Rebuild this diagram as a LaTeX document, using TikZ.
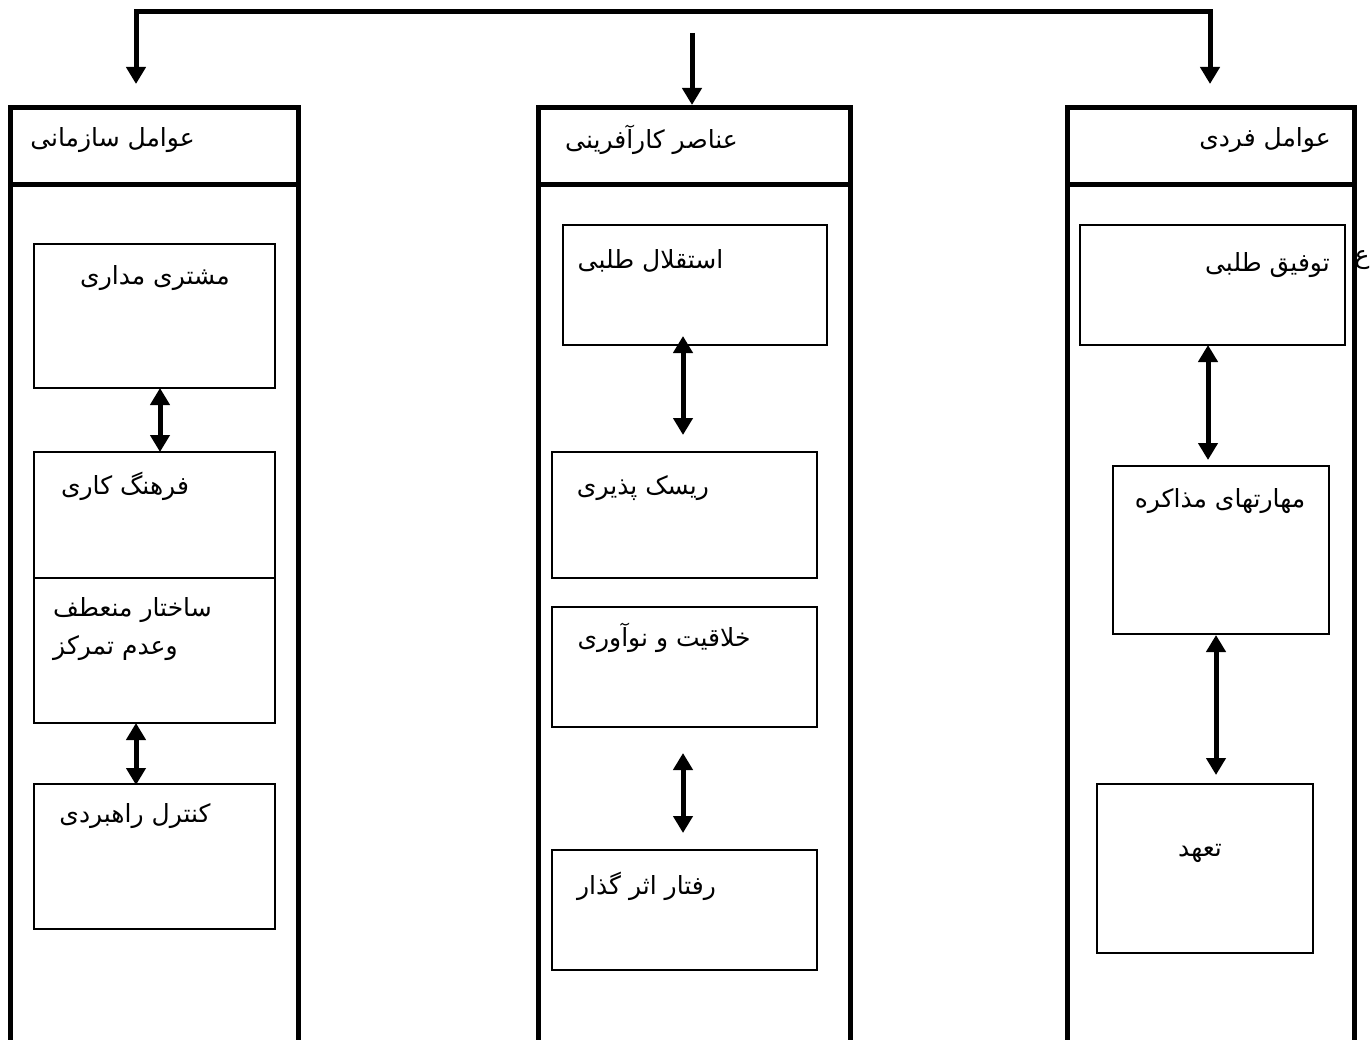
\documentclass[tikz,border=0pt]{standalone}
\usepackage{fontspec}
\newfontfamily\arabicfont[Script=Arabic]{DejaVu Sans}
\TeXXeTstate=1
\usetikzlibrary{arrows.meta,calc}
\tikzset{
  head/.style={draw, line width=5pt, inner sep=0pt, outer sep=0pt, minimum height=77pt, minimum width=#1},
  colside/.style={line width=5pt, line cap=butt},
  itembox/.style={draw, line width=1.6pt, inner sep=0pt, outer sep=0pt, minimum width=#1},
  lbl/.style={inner sep=0pt, yshift=-3pt, font=\arabicfont\fontsize{25}{38}\selectfont},
  dblarrow/.style={line width=5pt, {Triangle[width=19pt,length=17pt]}-{Triangle[width=19pt,length=17pt]}},
  busarrow/.style={line width=5pt, line join=miter, {Triangle[width=19pt,length=17pt]}-{Triangle[width=19pt,length=17pt]}},
  downarrow/.style={line width=5pt, -{Triangle[width=19pt,length=17pt]}}
}
\begin{document}
\begin{tikzpicture}[x=1pt,y=-1pt]
\useasboundingbox (0,0) rectangle (1372,1040);
\clip (0,0) rectangle (1372,1040);
\fill[white] (0,0) rectangle (1372,1040);

% column headers
\node[head=288pt] (h1) at (154,146.5) {};
\node[head=312pt] (h2) at (694,146.5) {};
\node[head=287pt] (h3) at (1210.5,146.5) {};
\foreach \h in {h1,h2,h3}{
  \draw[colside] (\h.south west) -- ++(0,900);
  \draw[colside] (\h.south east) -- ++(0,900);
}

% header texts
\node[lbl] (th1) at (112.5,137) {\beginR عوامل سازمانی\endR};
\node[lbl] (th2) at (651.5,137) {\beginR عناصر کارآفرینی\endR};
\node[lbl] (th3) at (1265,137) {\beginR عوامل فردی\endR};

% top connectors
\coordinate (tl) at (136,12);
\coordinate (tr) at (1210,12);
\coordinate (tm) at (692,33);
\draw[busarrow, shorten <=24pt, shorten >=24pt] (tl |- h1.north) -- (tl) -- (tr) -- (tr |- h3.north);
\draw[downarrow, shorten >=3pt] (tm) -- (tm |- h2.north);

% left column boxes
\node[itembox=241pt, minimum height=144pt] (b1) at (154.5,316) {};
\node[itembox=241pt, minimum height=126pt] (b2) at (154.5,515) {};
\node[itembox=241pt, minimum height=145pt] (b3) at (154.5,650.5) {};
\node[itembox=241pt, minimum height=145pt] (b4) at (154.5,856.5) {};
\node[lbl] (tb1) at (155,275) {\beginR مشتری مداری\endR};
\node[lbl] (tb2) at (125,483) {\beginR فرهنگ کاری\endR};
\node[lbl, align=left, anchor=west] (tb3) at (53,626) {\beginR ساختار منعطف\endR\\\beginR وعدم تمرکز\endR};
\node[lbl] (tb4) at (135,813) {\beginR کنترل راهبردی\endR};
\draw[dblarrow] ($(b1.south)+(5.5,0)$) -- ($(b2.north)+(5.5,0)$);
\draw[dblarrow] ($(b3.south)+(-18.5,0)$) -- ($(b4.north)+(-18.5,1)$);

% middle column boxes
\node[itembox=264pt, minimum height=120pt] (m1) at (695,285) {};
\node[itembox=265pt, minimum height=126pt] (m2) at (684.5,515) {};
\node[itembox=265pt, minimum height=120pt] (m3) at (684.5,667) {};
\node[itembox=265pt, minimum height=120pt] (m4) at (684.5,910) {};
\node[lbl] (tm1) at (650.5,258) {\beginR استقلال طلبی\endR};
\node[lbl] (tm2) at (643,485) {\beginR ریسک پذیری\endR};
\node[lbl] (tm3) at (664,635) {\beginR خلاقیت و نوآوری\endR};
\node[lbl] (tm4) at (646.5,883) {\beginR رفتار اثر گذار\endR};
\draw[dblarrow] ($(m1.south)+(-12,-9)$) -- ($(m2.north)+(-1.5,-17)$);
\draw[dblarrow] ($(m3.south)+(-1.5,26)$) -- ($(m4.north)+(-1.5,-17)$);

% right column boxes
\node[itembox=265pt, minimum height=120pt] (r1) at (1212.5,285) {};
\node[itembox=216pt, minimum height=168pt] (r2) at (1221,550) {};
\node[itembox=216pt, minimum height=169pt] (r3) at (1205,868.5) {};
\node[lbl] (tr1) at (1267.5,262) {\beginR توفیق طلبی\endR};
\node[lbl] (tr0) at (1362,257) {\beginR ع\endR};
\node[lbl] (tr2) at (1220,498) {\beginR مهارتهای مذاکره\endR};
\node[lbl] (tr3) at (1200,850) {\beginR تعهد\endR};
\draw[dblarrow] ($(r1.south)+(-4.5,0)$) -- ($(r2.north)+(-13,-6)$);
\draw[dblarrow] ($(r2.south)+(-5,1)$) -- ($(r3.north)+(11,-9)$);
\end{tikzpicture}
\end{document}
